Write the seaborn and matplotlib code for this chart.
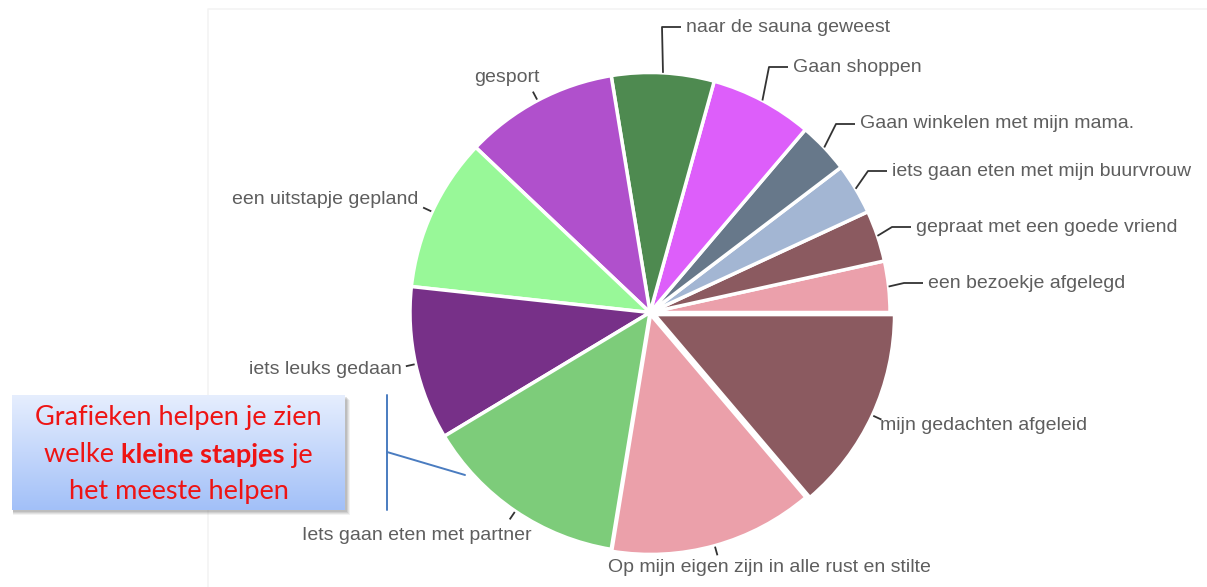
import numpy as np
import matplotlib
matplotlib.use("Agg")
import matplotlib.pyplot as plt
import seaborn as sns
from matplotlib.patches import Rectangle

# ---------------- data ----------------
categories = [
    "een bezoekje afgelegd",
    "gepraat met een goede vriend",
    "iets gaan eten met mijn buurvrouw",
    "Gaan winkelen met mijn mama.",
    "Gaan shoppen",
    "naar de sauna geweest",
    "gesport",
    "een uitstapje gepland",
    "iets leuks gedaan",
    "Iets gaan eten met partner",
    "Op mijn eigen zijn in alle rust en stilte",
    "mijn gedachten afgeleid",
]
counts = [1, 1, 1, 1, 2, 2, 3, 3, 3, 4, 4, 4]
slice_colors = ["#EBA0AB", "#8B5A60", "#A3B6D3", "#67788A", "#DD5EFA", "#4E8A50",
                "#B050CC", "#98F898", "#773088", "#7DCC7A", "#EBA0AA", "#8B5A60"]

callout_lines = [["Grafieken helpen je zien"],
                 ["welke ", "kleine stapjes", " je"],
                 ["het meeste helpen"]]
callout_bold = [[False], [False, True, False], [False]]

# ---------------- layout (pixel coords, y from top) ----------------
W, H = 1207, 587
def P(x, y):
    return x, H - y

# label text anchor positions and style: (x, y, ha, leader kind)
label_layout = [
    (928, 283, "left", "elbow"),
    (916, 227, "left", "elbow"),
    (892, 171, "left", "elbow"),
    (860, 124, "left", "elbow"),
    (793, 67, "left", "elbow"),
    (686, 27, "left", "elbow"),
    (507, 77, "center", "radial"),
    (418, 200, "right", "radial"),
    (402, 370, "right", "radial"),
    (532, 535, "right", "radial"),
    (608, 568, "left", "radial"),
    (880, 425, "left", "radial"),
]
explode_px = [0, 0, 0, 0, 0, 0, 0, 0, 0, 0, 2, 5]

sns.set_theme(style="white")
plt.rcParams["font.family"] = ["Liberation Sans", "DejaVu Sans"]

fig = plt.figure(figsize=(W / 100, H / 100), dpi=100)
ax = fig.add_axes([0, 0, 1, 1])

pal = sns.color_palette(slice_colors)
wedges, _ = ax.pie(counts, colors=pal, startangle=0, counterclock=True,
                   radius=240, center=P(650, 312.5), explode=explode_px,
                   wedgeprops=dict(edgecolor="white", linewidth=2.5))
ax.set_xlim(0, W)
ax.set_ylim(0, H)
ax.set_aspect("auto")
ax.axis("off")

# faint frame of the original chart image
ax.plot([208, 208, W], [0, H - 9, H - 9], color="#F3F3F3", lw=1.2, zorder=0)

label_color = "#5E5E5E"
for w, name, (tx, ty, ha, kind) in zip(wedges, categories, label_layout):
    cx, cy = w.center
    tm = np.deg2rad((w.theta1 + w.theta2) / 2)
    ex, ey = cx + w.r * np.cos(tm), cy + w.r * np.sin(tm)
    txd, tyd = P(tx, ty)
    if kind == "elbow":
        xs = [ex, txd - 24, txd - 5]
        ys = [ey, tyd, tyd]
    else:
        xs = [ex + 1 * np.cos(tm), ex + 10 * np.cos(tm)]
        ys = [ey + 1 * np.sin(tm), ey + 10 * np.sin(tm)]
    ax.plot(xs, ys, color="#333333", lw=1.3, solid_capstyle="butt")
    ax.text(txd, tyd, name, ha=ha, va="center", fontsize=14, color=label_color)

# ---------------- callout box ----------------
bx0, by0, bx1, by1 = 12, 395, 345, 510
# soft shadow
for k, a in zip([5, 4, 3, 2], [0.10, 0.14, 0.18, 0.22]):
    ax.add_patch(Rectangle(P(bx0 + 1, by1 + k), bx1 - bx0 + k - 1, by1 - by0,
                           facecolor="#808080", alpha=a, edgecolor="none", zorder=2))
grad = np.linspace(0, 1, 256)[:, None]
top = np.array(matplotlib.colors.to_rgb("#E6EEFE"))
bot = np.array(matplotlib.colors.to_rgb("#A2C0F8"))
img = top[None, None, :] * (1 - grad[..., None]) + bot[None, None, :] * grad[..., None]
img = np.repeat(img, 2, axis=1)
ax.imshow(img, extent=[bx0, bx1, H - by1, H - by0], aspect="auto", zorder=3,
          origin="upper")
ax.set_xlim(0, W)
ax.set_ylim(0, H)

red = "#EE1414"
line_y = [418, 455, 492]
fig.canvas.draw()
renderer = fig.canvas.get_renderer()
cxm = (bx0 + bx1) / 2
for parts, bolds, ly in zip(callout_lines, callout_bold, line_y):
    texts = []
    for s, b in zip(parts, bolds):
        t = ax.text(0, H - ly, s, fontsize=19.5, color=red, ha="left", va="center",
                    family=["Lato", "DejaVu Sans"], fontweight="bold" if b else "normal",
                    zorder=5)
        texts.append(t)
    fig.canvas.draw()
    widths = [t.get_window_extent(renderer).width for t in texts]
    total = sum(widths)
    x = cxm - total / 2
    for t, wdt in zip(texts, widths):
        t.set_x(x)
        x += wdt

# bracket
ax.plot([387, 387], [H - 395, H - 510], color="#4A7CC0", lw=1.4, zorder=4)
ax.plot([387, 465], [H - 452, H - 475], color="#4A7CC0", lw=1.4, zorder=4)

fig.savefig("out.png", dpi=100, facecolor="white")
